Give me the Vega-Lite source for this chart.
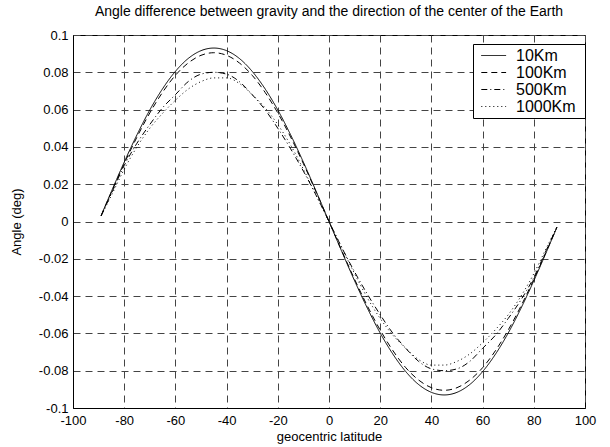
{
  "$schema": "https://vega.github.io/schema/vega-lite/v6.json",
  "autosize": {"type": "none"},
  "width": 512,
  "height": 373,
  "padding": {"left": 73, "top": 35, "right": 25, "bottom": 39},
  "background": "white",
  "config": {
    "font": "Liberation Sans",
    "view": {"stroke": "black", "strokeWidth": 1},
    "axis": {
      "labelFont": "Liberation Sans", "titleFont": "Liberation Sans",
      "labelFontSize": 13, "titleFontSize": 13, "labelColor": "black", "titleColor": "black",
      "titleFontWeight": "normal", "domainColor": "black", "tickColor": "black",
      "gridColor": "#444", "gridDash": [7, 5], "gridWidth": 1, "gridOpacity": 1, "labelFlush": false
    }
  },
  "title": {
    "text": "Angle difference between gravity and the direction of the center of the Earth",
    "fontSize": 14, "fontWeight": "normal", "font": "Liberation Sans", "color": "black",
    "anchor": "middle", "offset": 10
  },
  "data": {"values": [
    {"lat": -89, "angle": 0.0032, "alt": "10Km"}, {"lat": -85, "angle": 0.0161, "alt": "10Km"}, {"lat": -80, "angle": 0.0318, "alt": "10Km"}, {"lat": -75, "angle": 0.0465, "alt": "10Km"}, {"lat": -70, "angle": 0.0598, "alt": "10Km"}, {"lat": -65, "angle": 0.0712, "alt": "10Km"}, {"lat": -60, "angle": 0.0805, "alt": "10Km"}, {"lat": -55, "angle": 0.0874, "alt": "10Km"}, {"lat": -50, "angle": 0.0916, "alt": "10Km"}, {"lat": -45, "angle": 0.093, "alt": "10Km"}, {"lat": -40, "angle": 0.0916, "alt": "10Km"}, {"lat": -35, "angle": 0.0874, "alt": "10Km"}, {"lat": -30, "angle": 0.0805, "alt": "10Km"}, {"lat": -25, "angle": 0.0712, "alt": "10Km"}, {"lat": -20, "angle": 0.0598, "alt": "10Km"}, {"lat": -15, "angle": 0.0465, "alt": "10Km"}, {"lat": -10, "angle": 0.0318, "alt": "10Km"}, {"lat": -5, "angle": 0.0161, "alt": "10Km"}, {"lat": 0, "angle": 0, "alt": "10Km"}, {"lat": 5, "angle": -0.0161, "alt": "10Km"}, {"lat": 10, "angle": -0.0318, "alt": "10Km"}, {"lat": 15, "angle": -0.0465, "alt": "10Km"}, {"lat": 20, "angle": -0.0598, "alt": "10Km"}, {"lat": 25, "angle": -0.0712, "alt": "10Km"}, {"lat": 30, "angle": -0.0805, "alt": "10Km"}, {"lat": 35, "angle": -0.0874, "alt": "10Km"}, {"lat": 40, "angle": -0.0916, "alt": "10Km"}, {"lat": 45, "angle": -0.093, "alt": "10Km"}, {"lat": 50, "angle": -0.0916, "alt": "10Km"}, {"lat": 55, "angle": -0.0874, "alt": "10Km"}, {"lat": 60, "angle": -0.0805, "alt": "10Km"}, {"lat": 65, "angle": -0.0712, "alt": "10Km"}, {"lat": 70, "angle": -0.0598, "alt": "10Km"}, {"lat": 75, "angle": -0.0465, "alt": "10Km"}, {"lat": 80, "angle": -0.0318, "alt": "10Km"}, {"lat": 85, "angle": -0.0161, "alt": "10Km"}, {"lat": 89, "angle": -0.0032, "alt": "10Km"},
    {"lat": -89, "angle": 0.0032, "alt": "100Km"}, {"lat": -85, "angle": 0.0157, "alt": "100Km"}, {"lat": -80, "angle": 0.031, "alt": "100Km"}, {"lat": -75, "angle": 0.0453, "alt": "100Km"}, {"lat": -70, "angle": 0.0582, "alt": "100Km"}, {"lat": -65, "angle": 0.0693, "alt": "100Km"}, {"lat": -60, "angle": 0.0784, "alt": "100Km"}, {"lat": -55, "angle": 0.085, "alt": "100Km"}, {"lat": -50, "angle": 0.0891, "alt": "100Km"}, {"lat": -45, "angle": 0.0905, "alt": "100Km"}, {"lat": -40, "angle": 0.0891, "alt": "100Km"}, {"lat": -35, "angle": 0.085, "alt": "100Km"}, {"lat": -30, "angle": 0.0784, "alt": "100Km"}, {"lat": -25, "angle": 0.0693, "alt": "100Km"}, {"lat": -20, "angle": 0.0582, "alt": "100Km"}, {"lat": -15, "angle": 0.0453, "alt": "100Km"}, {"lat": -10, "angle": 0.031, "alt": "100Km"}, {"lat": -5, "angle": 0.0157, "alt": "100Km"}, {"lat": 0, "angle": 0, "alt": "100Km"}, {"lat": 5, "angle": -0.0157, "alt": "100Km"}, {"lat": 10, "angle": -0.031, "alt": "100Km"}, {"lat": 15, "angle": -0.0453, "alt": "100Km"}, {"lat": 20, "angle": -0.0582, "alt": "100Km"}, {"lat": 25, "angle": -0.0693, "alt": "100Km"}, {"lat": 30, "angle": -0.0784, "alt": "100Km"}, {"lat": 35, "angle": -0.085, "alt": "100Km"}, {"lat": 40, "angle": -0.0891, "alt": "100Km"}, {"lat": 45, "angle": -0.0905, "alt": "100Km"}, {"lat": 50, "angle": -0.0891, "alt": "100Km"}, {"lat": 55, "angle": -0.085, "alt": "100Km"}, {"lat": 60, "angle": -0.0784, "alt": "100Km"}, {"lat": 65, "angle": -0.0693, "alt": "100Km"}, {"lat": 70, "angle": -0.0582, "alt": "100Km"}, {"lat": 75, "angle": -0.0453, "alt": "100Km"}, {"lat": 80, "angle": -0.031, "alt": "100Km"}, {"lat": 85, "angle": -0.0157, "alt": "100Km"}, {"lat": 89, "angle": -0.0032, "alt": "100Km"},
    {"lat": -89, "angle": 0.003, "alt": "500Km"}, {"lat": -85, "angle": 0.015, "alt": "500Km"}, {"lat": -80, "angle": 0.03, "alt": "500Km"}, {"lat": -75, "angle": 0.042, "alt": "500Km"}, {"lat": -70, "angle": 0.052, "alt": "500Km"}, {"lat": -65, "angle": 0.061, "alt": "500Km"}, {"lat": -60, "angle": 0.068, "alt": "500Km"}, {"lat": -55, "angle": 0.075, "alt": "500Km"}, {"lat": -50, "angle": 0.079, "alt": "500Km"}, {"lat": -45, "angle": 0.08, "alt": "500Km"}, {"lat": -40, "angle": 0.079, "alt": "500Km"}, {"lat": -35, "angle": 0.075, "alt": "500Km"}, {"lat": -30, "angle": 0.068, "alt": "500Km"}, {"lat": -25, "angle": 0.06, "alt": "500Km"}, {"lat": -20, "angle": 0.05, "alt": "500Km"}, {"lat": -15, "angle": 0.039, "alt": "500Km"}, {"lat": -10, "angle": 0.027, "alt": "500Km"}, {"lat": -5, "angle": 0.014, "alt": "500Km"}, {"lat": 0, "angle": 0, "alt": "500Km"}, {"lat": 5, "angle": -0.014, "alt": "500Km"}, {"lat": 10, "angle": -0.027, "alt": "500Km"}, {"lat": 15, "angle": -0.039, "alt": "500Km"}, {"lat": 20, "angle": -0.05, "alt": "500Km"}, {"lat": 25, "angle": -0.06, "alt": "500Km"}, {"lat": 30, "angle": -0.068, "alt": "500Km"}, {"lat": 35, "angle": -0.075, "alt": "500Km"}, {"lat": 40, "angle": -0.079, "alt": "500Km"}, {"lat": 45, "angle": -0.08, "alt": "500Km"}, {"lat": 50, "angle": -0.079, "alt": "500Km"}, {"lat": 55, "angle": -0.075, "alt": "500Km"}, {"lat": 60, "angle": -0.068, "alt": "500Km"}, {"lat": 65, "angle": -0.061, "alt": "500Km"}, {"lat": 70, "angle": -0.052, "alt": "500Km"}, {"lat": 75, "angle": -0.042, "alt": "500Km"}, {"lat": 80, "angle": -0.03, "alt": "500Km"}, {"lat": 85, "angle": -0.015, "alt": "500Km"}, {"lat": 89, "angle": -0.003, "alt": "500Km"},
    {"lat": -89, "angle": 0.003, "alt": "1000Km"}, {"lat": -85, "angle": 0.014, "alt": "1000Km"}, {"lat": -80, "angle": 0.028, "alt": "1000Km"}, {"lat": -75, "angle": 0.04, "alt": "1000Km"}, {"lat": -70, "angle": 0.05, "alt": "1000Km"}, {"lat": -65, "angle": 0.058, "alt": "1000Km"}, {"lat": -60, "angle": 0.065, "alt": "1000Km"}, {"lat": -55, "angle": 0.071, "alt": "1000Km"}, {"lat": -50, "angle": 0.075, "alt": "1000Km"}, {"lat": -45, "angle": 0.077, "alt": "1000Km"}, {"lat": -40, "angle": 0.077, "alt": "1000Km"}, {"lat": -35, "angle": 0.074, "alt": "1000Km"}, {"lat": -30, "angle": 0.068, "alt": "1000Km"}, {"lat": -25, "angle": 0.061, "alt": "1000Km"}, {"lat": -20, "angle": 0.052, "alt": "1000Km"}, {"lat": -15, "angle": 0.041, "alt": "1000Km"}, {"lat": -10, "angle": 0.028, "alt": "1000Km"}, {"lat": -5, "angle": 0.014, "alt": "1000Km"}, {"lat": 0, "angle": 0, "alt": "1000Km"}, {"lat": 5, "angle": -0.014, "alt": "1000Km"}, {"lat": 10, "angle": -0.028, "alt": "1000Km"}, {"lat": 15, "angle": -0.041, "alt": "1000Km"}, {"lat": 20, "angle": -0.052, "alt": "1000Km"}, {"lat": 25, "angle": -0.061, "alt": "1000Km"}, {"lat": 30, "angle": -0.068, "alt": "1000Km"}, {"lat": 35, "angle": -0.074, "alt": "1000Km"}, {"lat": 40, "angle": -0.077, "alt": "1000Km"}, {"lat": 45, "angle": -0.077, "alt": "1000Km"}, {"lat": 50, "angle": -0.075, "alt": "1000Km"}, {"lat": 55, "angle": -0.071, "alt": "1000Km"}, {"lat": 60, "angle": -0.065, "alt": "1000Km"}, {"lat": 65, "angle": -0.058, "alt": "1000Km"}, {"lat": 70, "angle": -0.05, "alt": "1000Km"}, {"lat": 75, "angle": -0.04, "alt": "1000Km"}, {"lat": 80, "angle": -0.028, "alt": "1000Km"}, {"lat": 85, "angle": -0.014, "alt": "1000Km"}, {"lat": 89, "angle": -0.003, "alt": "1000Km"}
  ]},
  "mark": {"type": "line", "strokeWidth": 1, "color": "black", "interpolate": "monotone"},
  "encoding": {
    "x": {
      "field": "lat", "type": "quantitative",
      "scale": {"domain": [-100, 100], "nice": false, "zero": false},
      "axis": {
        "title": "geocentric latitude", "values": [-100, -80, -60, -40, -20, 0, 20, 40, 60, 80, 100],
        "labelExpr": "replace(format(datum.value, '~g'), '\u2212', '-')",
        "tickSize": 0, "labelPadding": 6, "titlePadding": 3, "grid": true
      }
    },
    "y": {
      "field": "angle", "type": "quantitative",
      "scale": {"domain": [-0.1, 0.1], "nice": false, "zero": false},
      "axis": {
        "title": "Angle (deg)", "values": [-0.1, -0.08, -0.06, -0.04, -0.02, 0, 0.02, 0.04, 0.06, 0.08, 0.1],
        "labelExpr": "replace(format(datum.value, '~g'), '\u2212', '-')",
        "tickSize": 0, "labelPadding": 5, "titlePadding": 15, "grid": true
      }
    },
    "strokeDash": {
      "field": "alt", "type": "nominal",
      "sort": ["10Km", "100Km", "500Km", "1000Km"],
      "scale": {"domain": ["10Km", "100Km", "500Km", "1000Km"], "range": [[1, 0], [6, 4], [6, 3, 1, 3], [1, 3]]},
      "legend": {
        "title": "\u00a0", "titleOrient": "right", "titlePadding": 6, "titleFontSize": 8,
        "orient": "none", "legendX": 400, "legendY": 9,
        "strokeColor": "black", "fillColor": "white", "padding": 3, "cornerRadius": 0,
        "symbolType": "M-0.4,0H2.7", "symbolSize": 256, "symbolStrokeWidth": 1, "symbolStrokeColor": "black", "symbolFillColor": "transparent",
        "labelFont": "Liberation Sans", "labelFontSize": 16, "labelColor": "black", "labelOffset": 23,
        "rowPadding": 0, "labelLimit": 200
      }
    }
  }
}
